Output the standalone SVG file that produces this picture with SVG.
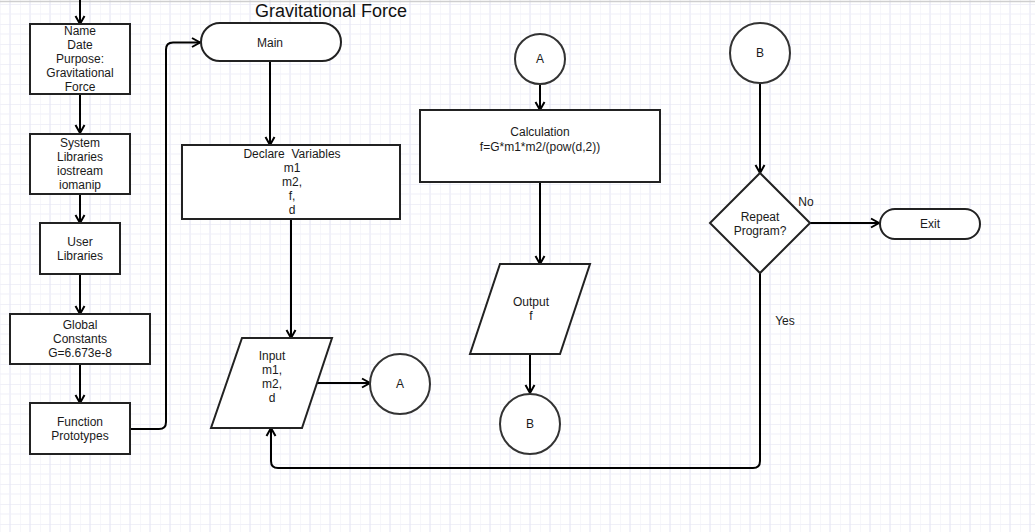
<svg xmlns="http://www.w3.org/2000/svg" width="1035" height="532" viewBox="0 0 1035 532">
<style>
.box{fill:#fff;stroke:#222;stroke-width:2}
.circ{fill:#fff;stroke:#333;stroke-width:2}
.t{font-family:"Liberation Sans",Arial,sans-serif;font-size:12px;fill:#1a1a1a;text-anchor:middle}
.title{font-family:"Liberation Sans",Arial,sans-serif;font-size:18px;fill:#111;text-anchor:middle}
.c{fill:none;stroke:#000;stroke-width:2}
</style>
<defs>
<pattern id="grid" width="20" height="20" patternUnits="userSpaceOnUse" x="0" y="4">
<path d="M10,0 V20 M0,0 H20" stroke="#e2e2f2" stroke-width="1" fill="none"/>
<path d="M0,0 V20 M0,10 H20" stroke="#efeff8" stroke-width="1" fill="none"/>
</pattern>
<marker id="arr" markerWidth="12" markerHeight="12" refX="9" refY="5" orient="auto" markerUnits="userSpaceOnUse" viewBox="0 0 12 10">
<path d="M1,0.5 L9,5 L1,9.5" fill="none" stroke="#000" stroke-width="2"/>
</marker>
</defs>
<rect width="1035" height="532" fill="#fff"/>
<rect width="1035" height="532" fill="url(#grid)"/>
<line x1="0" y1="1.5" x2="1035" y2="1.5" stroke="#cfcfcf" stroke-width="1.5"/>
<text class="title" x="331" y="17">Gravitational Force</text>

<g id="connectors">
<path class="c" d="M80,0 V24" marker-end="url(#arr)"/>
<path class="c" d="M80,94 V133" marker-end="url(#arr)"/>
<path class="c" d="M80,194 V223" marker-end="url(#arr)"/>
<path class="c" d="M80,274 V314" marker-end="url(#arr)"/>
<path class="c" d="M80,364 V403" marker-end="url(#arr)"/>
<path class="c" d="M130,429 H159 Q166,429 166,422 V49.5 Q166,42.5 173,42.5 H200" marker-end="url(#arr)"/>
<path class="c" d="M270,62 V145" marker-end="url(#arr)"/>
<path class="c" d="M291,220 V338" marker-end="url(#arr)"/>
<path class="c" d="M317,383 H370" marker-end="url(#arr)"/>
<path class="c" d="M540,84 V110" marker-end="url(#arr)"/>
<path class="c" d="M540,182 V264" marker-end="url(#arr)"/>
<path class="c" d="M530,354 V393" marker-end="url(#arr)"/>
<path class="c" d="M760,83 V173" marker-end="url(#arr)"/>
<path class="c" d="M810,223 H879" marker-end="url(#arr)"/>
<path class="c" d="M760,273 V461 Q760,468 753,468 H278 Q271,468 271,461 V428" marker-end="url(#arr)"/>
<text class="t" x="806" y="206">No</text>
<text class="t" x="785" y="325">Yes</text>
</g>

<g id="header">
<rect class="box" x="30" y="24" width="100" height="70"/>
<text class="t" x="80" y="35">Name</text>
<text class="t" x="80" y="49">Date</text>
<text class="t" x="80" y="63">Purpose:</text>
<text class="t" x="80" y="77">Gravitational</text>
<text class="t" x="80" y="91">Force</text>
</g>
<g id="syslibs">
<rect class="box" x="30" y="134" width="100" height="60"/>
<text class="t" x="80" y="147">System</text>
<text class="t" x="80" y="161">Libraries</text>
<text class="t" x="80" y="175">iostream</text>
<text class="t" x="80" y="189">iomanip</text>
</g>
<g id="userlibs">
<rect class="box" x="40" y="223" width="80" height="51"/>
<text class="t" x="80" y="246">User</text>
<text class="t" x="80" y="260">Libraries</text>
</g>
<g id="constants">
<rect class="box" x="10" y="314" width="140" height="50"/>
<text class="t" x="80" y="329">Global</text>
<text class="t" x="80" y="343">Constants</text>
<text class="t" x="80" y="357">G=6.673e-8</text>
</g>
<g id="prototypes">
<rect class="box" x="30" y="403" width="100" height="51"/>
<text class="t" x="80" y="426">Function</text>
<text class="t" x="80" y="440">Prototypes</text>
</g>
<g id="main">
<rect class="box" x="201" y="23" width="140" height="38" rx="19"/>
<text class="t" x="270" y="47">Main</text>
</g>
<g id="declare">
<rect class="box" x="182" y="145" width="218" height="74"/>
<text class="t" x="292" y="158" xml:space="preserve">Declare  Variables</text>
<text class="t" x="292" y="172">m1</text>
<text class="t" x="292" y="186">m2,</text>
<text class="t" x="292" y="200">f,</text>
<text class="t" x="292" y="214">d</text>
</g>
<g id="input">
<polygon class="box" points="242,338 332,338 302,428 211,428"/>
<text class="t" x="272" y="360">Input</text>
<text class="t" x="272" y="374">m1,</text>
<text class="t" x="272" y="388">m2,</text>
<text class="t" x="272" y="402">d</text>
</g>
<g id="connA1">
<circle class="circ" cx="400" cy="384" r="30"/>
<text class="t" x="400" y="388">A</text>
</g>
<g id="connA2">
<circle class="circ" cx="540" cy="59" r="25"/>
<text class="t" x="540" y="63">A</text>
</g>
<g id="calc">
<rect class="box" x="420" y="110" width="240" height="72"/>
<text class="t" x="540" y="136">Calculation</text>
<text class="t" x="540" y="151">f=G*m1*m2/(pow(d,2))</text>
</g>
<g id="output">
<polygon class="box" points="500,264 590,264 560,354 470,354"/>
<text class="t" x="531" y="306">Output</text>
<text class="t" x="531" y="320">f</text>
</g>
<g id="connB1">
<circle class="circ" cx="530" cy="424" r="30"/>
<text class="t" x="530" y="428">B</text>
</g>
<g id="connB2">
<circle class="circ" cx="760" cy="53" r="30"/>
<text class="t" x="760" y="57">B</text>
</g>
<g id="decision">
<polygon class="box" points="760,173 810,223 760,273 710,223"/>
<text class="t" x="760" y="221">Repeat</text>
<text class="t" x="760" y="235">Program?</text>
</g>
<g id="exit">
<rect class="box" x="880" y="209" width="100" height="30" rx="15"/>
<text class="t" x="930" y="228">Exit</text>
</g>
</svg>
